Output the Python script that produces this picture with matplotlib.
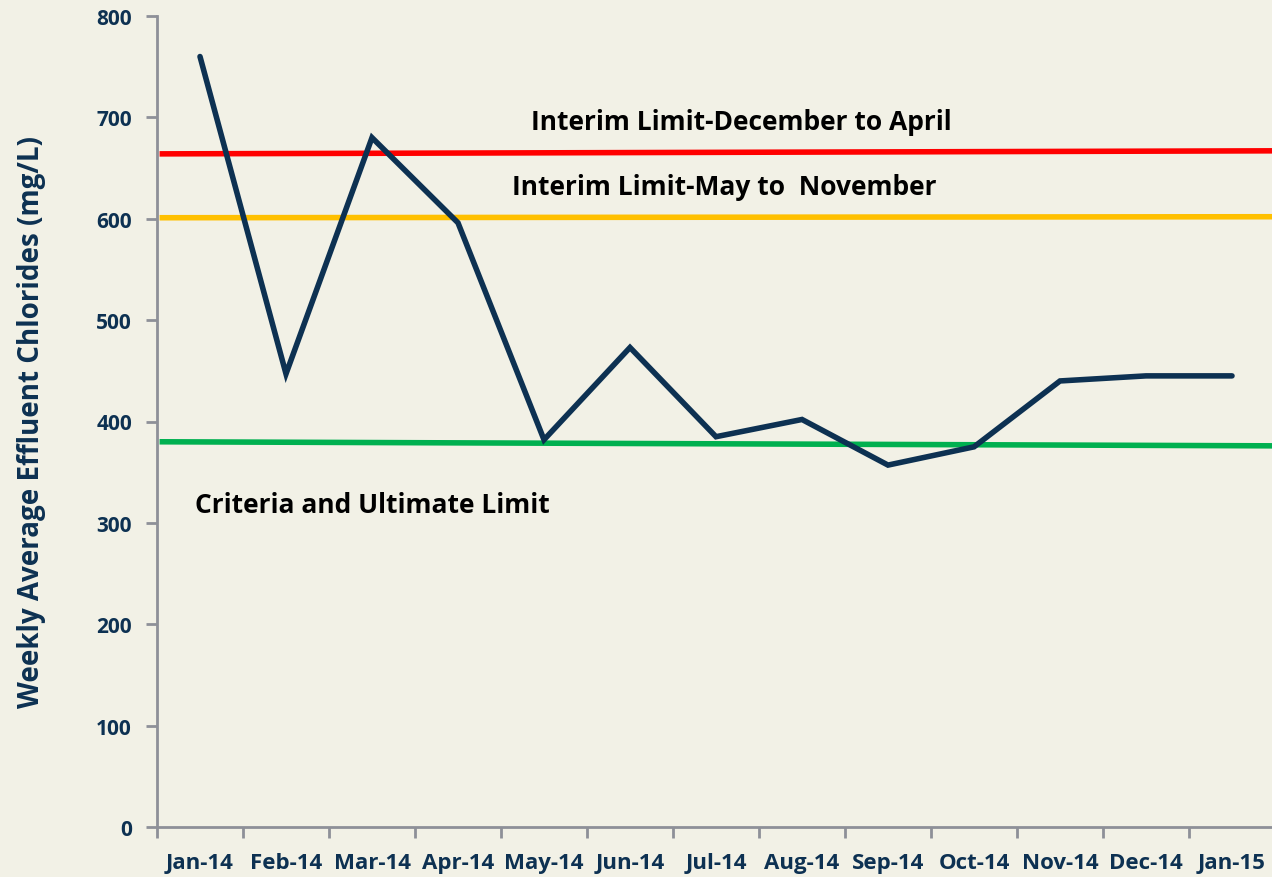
import matplotlib.pyplot as plt

months = ['Jan-14', 'Feb-14', 'Mar-14', 'Apr-14', 'May-14', 'Jun-14', 'Jul-14',
          'Aug-14', 'Sep-14', 'Oct-14', 'Nov-14', 'Dec-14', 'Jan-15']
chlorides = [760, 447, 680, 596, 382, 473, 385, 402, 357, 375, 440, 445, 445]

# limit lines, value at left and right end
interim_dec_apr = [664, 667]
interim_may_nov = [601, 602]
ultimate_limit = [380, 376]

BG = '#f2f1e6'
NAVY = '#0d3152'
GRAY = '#8e9098'

plt.rcParams['font.family'] = ['Open Sans', 'DejaVu Sans']

fig = plt.figure(figsize=(12.72, 8.78), dpi=100, facecolor=BG)
ax = fig.add_axes([157 / 1272, 50 / 878, 1 - 157 / 1272, (828 - 17) / 878])
ax.set_facecolor(BG)

x = list(range(len(months)))
xmin, xmax = -0.5, 12.465
ax.plot([xmin + 0.03, xmax], interim_dec_apr, color='#ff0000', lw=4, solid_capstyle='butt')
ax.plot([xmin + 0.03, xmax], interim_may_nov, color='#ffc000', lw=4, solid_capstyle='butt')
ax.plot([xmin + 0.03, xmax], ultimate_limit, color='#00b050', lw=4, solid_capstyle='butt')
ax.plot(x, chlorides, color=NAVY, lw=4, solid_capstyle='round', solid_joinstyle='miter')

ax.text(6.3, 696, 'Interim Limit-December to April', fontsize=19, fontweight='bold',
        ha='center', va='center', color='black')
ax.text(6.1, 632, 'Interim Limit-May to  November', fontsize=19, fontweight='bold',
        ha='center', va='center', color='black')
ax.text(2.0, 318, 'Criteria and Ultimate Limit', fontsize=19, fontweight='bold',
        ha='center', va='center', color='black')

ax.set_xlim(xmin, xmax)
ax.set_ylim(0, 800)
ax.set_yticks(range(0, 801, 100))
ax.set_xticks([i - 0.5 for i in range(len(months))])
ax.set_xticklabels([])
ax.set_xticks(x, minor=True)
ax.set_xticklabels(months, minor=True)
ax.tick_params(axis='x', which='minor', length=0, pad=18)
ax.tick_params(axis='x', which='major', length=8, width=2, color=GRAY, direction='out')
ax.tick_params(axis='y', length=8, width=2, color=GRAY, direction='out', pad=10)
for lab in ax.get_xticklabels(minor=True):
    lab.set_fontsize(16)
    lab.set_fontweight('bold')
    lab.set_color(NAVY)
for lab in ax.get_yticklabels():
    lab.set_fontsize(15)
    lab.set_fontweight('bold')
    lab.set_color(NAVY)

for s in ['top', 'right']:
    ax.spines[s].set_visible(False)
for s in ['left', 'bottom']:
    ax.spines[s].set_color(GRAY)
    ax.spines[s].set_linewidth(2)

ax.set_ylabel('Weekly Average Effluent Chlorides (mg/L)', fontsize=20, fontweight='bold',
              color=NAVY, labelpad=36)

fig.savefig('out.png', dpi=100, facecolor=BG)
